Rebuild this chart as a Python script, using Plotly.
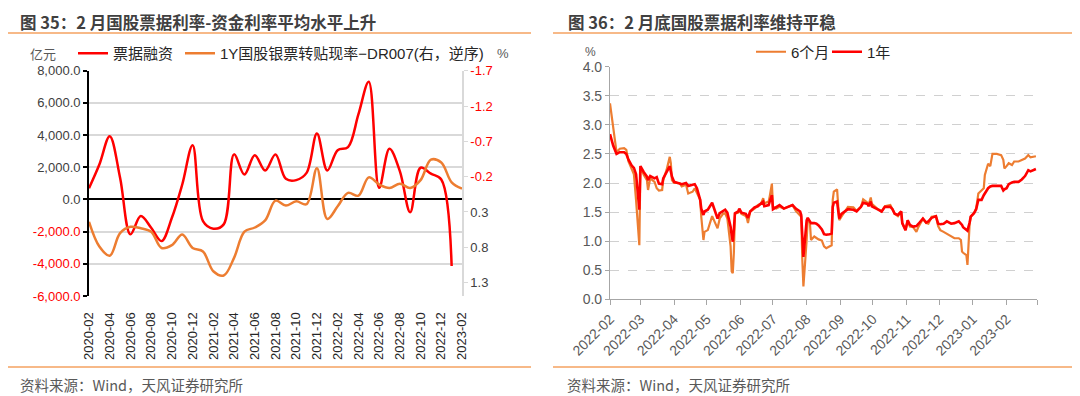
import plotly.graph_objects as go

# ---------------- Left chart data (monthly) ----------------
months = ["2020-02","2020-03","2020-04","2020-05","2020-06","2020-07","2020-08","2020-09","2020-10","2020-11","2020-12",
          "2021-01","2021-02","2021-03","2021-04","2021-05","2021-06","2021-07","2021-08","2021-09","2021-10","2021-11","2021-12",
          "2022-01","2022-02","2022-03","2022-04","2022-05","2022-06","2022-07","2022-08","2022-09","2022-10","2022-11","2022-12",
          "2023-01","2023-02"]
bill_financing = [700, 2170, 3930, 1350, -2170, -1035, -1760, -2590, -1140, 930, 3370,
                  -1350, -1820, -1550, 2800, 1550, 2750, 1800, 2800, 1280, 1200, 1650, 4100,
                  1800, 3060, 3250, 5280, 7310, 720, 3150, 1760, -790, 1970, 1600, 1240,
                  -4140, None]
spread_1y_dr007 = [0.44, 0.79, 0.92, 0.60, 0.51, 0.53, 0.58, 0.81, 0.77, 0.62, 0.81,
                   0.86, 1.14, 1.20, 0.95, 0.58, 0.52, 0.42, 0.14, 0.21, 0.15, 0.19, -0.32,
                   0.40, 0.22, 0.03, 0.07, -0.19, -0.09, -0.04, -0.10, -0.04, -0.15, -0.44, -0.40,
                   -0.12, -0.03]
left_ticks = [-6000, -4000, -2000, 0, 2000, 4000, 6000, 8000]
right_ticks = [-1.7, -1.2, -0.7, -0.2, 0.3, 0.8, 1.3]

# ---------------- Right chart data (daily samples) ----------------
days = ["2022-02-01","2022-02-04","2022-02-07","2022-02-10","2022-02-14","2022-02-16","2022-02-18","2022-02-21","2022-02-23","2022-02-25","2022-02-28",
        "2022-03-01","2022-03-04","2022-03-07","2022-03-08","2022-03-10","2022-03-14","2022-03-16","2022-03-18","2022-03-21","2022-03-22","2022-03-25","2022-03-28","2022-03-29","2022-03-30",
        "2022-04-01","2022-04-06","2022-04-08","2022-04-12","2022-04-14","2022-04-18","2022-04-20","2022-04-22","2022-04-25","2022-04-26","2022-04-28","2022-04-29",
        "2022-05-02","2022-05-06","2022-05-09","2022-05-11","2022-05-13","2022-05-16","2022-05-18","2022-05-20","2022-05-23","2022-05-24","2022-05-25","2022-05-26","2022-05-27","2022-05-30","2022-05-31",
        "2022-06-02","2022-06-06","2022-06-07","2022-06-08","2022-06-10","2022-06-14","2022-06-17","2022-06-20","2022-06-22","2022-06-23","2022-06-27","2022-06-28","2022-06-30",
        "2022-07-01","2022-07-04","2022-07-07","2022-07-11","2022-07-15","2022-07-19","2022-07-22","2022-07-26","2022-07-27","2022-07-28","2022-07-29",
        "2022-08-01","2022-08-02","2022-08-04","2022-08-05","2022-08-08","2022-08-10","2022-08-12","2022-08-15","2022-08-17","2022-08-19","2022-08-22","2022-08-24","2022-08-25","2022-08-26","2022-08-29","2022-08-30","2022-08-31",
        "2022-09-02","2022-09-05","2022-09-08","2022-09-13","2022-09-16","2022-09-20","2022-09-22","2022-09-26","2022-09-27","2022-09-29","2022-09-30",
        "2022-10-05","2022-10-09","2022-10-12","2022-10-17","2022-10-19","2022-10-21","2022-10-24","2022-10-27","2022-10-28","2022-10-31",
        "2022-11-02","2022-11-04","2022-11-07","2022-11-10","2022-11-12","2022-11-16","2022-11-19","2022-11-21","2022-11-24","2022-11-28","2022-11-30",
        "2022-12-02","2022-12-05","2022-12-08","2022-12-12","2022-12-15","2022-12-19","2022-12-21","2022-12-22","2022-12-23","2022-12-26","2022-12-27","2022-12-29","2022-12-30",
        "2023-01-02","2023-01-04","2023-01-06","2023-01-09","2023-01-11","2023-01-12","2023-01-14","2023-01-15","2023-01-17","2023-01-19","2023-01-23","2023-01-27","2023-01-29","2023-01-30",
        "2023-02-01","2023-02-03","2023-02-06","2023-02-08","2023-02-12","2023-02-15","2023-02-18","2023-02-21","2023-02-23","2023-02-28"]
rate_6m = [3.37, 2.95, 2.53, 2.59, 2.60, 2.57, 2.37, 2.24, 2.15, 1.70, 0.93,
           2.28, 2.14, 2.05, 1.88, 2.08, 2.02, 1.91, 1.87, 1.88, 2.05, 2.22, 2.45, 2.34, 2.05,
           2.00, 2.00, 1.94, 1.97, 1.82, 1.85, 1.91, 1.82, 1.71, 1.42, 1.02, 1.16,
           1.19, 1.43, 1.31, 1.22, 1.39, 1.47, 1.48, 1.39, 0.91, 0.48, 0.45, 0.80, 1.47, 1.49, 1.54,
           1.47, 1.43, 1.39, 1.31, 1.51, 1.56, 1.62, 1.65, 1.74, 1.65, 1.68, 1.77, 1.99,
           1.59, 1.56, 1.59, 1.56, 1.59, 1.62, 1.52, 1.45, 1.42, 0.68, 0.22,
           1.02, 1.39, 1.31, 1.02, 1.08, 1.05, 1.03, 1.01, 0.91, 0.88, 0.91, 0.93, 1.71, 1.85, 1.89, 1.59, 1.36,
           1.42, 1.51, 1.59, 1.58, 1.52, 1.59, 1.72, 1.66, 1.62, 1.75, 1.64,
           1.56, 1.51, 1.60, 1.62, 1.55, 1.47, 1.43, 1.51, 1.31, 1.19,
           1.36, 1.25, 1.24, 1.16, 1.25, 1.38, 1.31, 1.30, 1.42, 1.43, 1.26,
           1.19, 1.16, 1.13, 1.08, 1.05, 1.05, 1.02, 0.82, 0.80, 0.76, 0.59, 1.30, 1.42,
           1.48, 1.56, 1.82, 1.88, 1.91, 2.14, 2.28, 2.33, 2.29, 2.50, 2.50, 2.48, 2.40, 2.25,
           2.29, 2.34, 2.31, 2.37, 2.37, 2.40, 2.42, 2.48, 2.44, 2.46]
rate_1y = [2.84, 2.64, 2.50, 2.53, 2.53, 2.50, 2.40, 2.30, 2.26, 2.15, 1.54,
           2.29, 2.19, 2.11, 2.05, 2.12, 2.08, 2.10, 1.99, 1.98, 2.08, 2.19, 2.29, 2.20, 2.11,
           2.02, 2.00, 1.98, 2.00, 1.95, 1.97, 1.98, 1.91, 1.71, 1.56, 1.45, 1.51,
           1.54, 1.66, 1.51, 1.39, 1.48, 1.51, 1.54, 1.49, 1.25, 1.10, 0.99, 1.20, 1.48, 1.51, 1.56,
           1.49, 1.47, 1.43, 1.40, 1.51, 1.58, 1.60, 1.65, 1.68, 1.60, 1.62, 1.68, 1.79,
           1.55, 1.58, 1.62, 1.56, 1.59, 1.62, 1.56, 1.51, 1.45, 1.08, 0.73,
           1.36, 1.40, 1.34, 1.31, 1.31, 1.30, 1.27, 1.20, 1.12, 1.11, 1.12, 1.13, 1.59, 1.66, 1.68, 1.48, 1.39,
           1.47, 1.51, 1.55, 1.54, 1.51, 1.59, 1.66, 1.64, 1.60, 1.68, 1.60,
           1.55, 1.51, 1.59, 1.59, 1.55, 1.47, 1.45, 1.51, 1.31, 1.19,
           1.36, 1.28, 1.25, 1.26, 1.30, 1.39, 1.32, 1.34, 1.40, 1.43, 1.30,
           1.29, 1.30, 1.34, 1.30, 1.31, 1.34, 1.31, 1.28, 1.24, 1.20, 1.18, 1.32, 1.42,
           1.48, 1.55, 1.71, 1.71, 1.79, 1.82, 1.89, 1.91, 1.94, 1.95, 1.95, 1.95, 1.87, 1.89,
           1.91, 1.98, 2.01, 2.02, 2.02, 2.06, 2.12, 2.22, 2.20, 2.24]
month_starts = ["2022-02-01","2022-03-01","2022-04-01","2022-05-01","2022-06-01","2022-07-01","2022-08-01",
                "2022-09-01","2022-10-01","2022-11-01","2022-12-01","2023-01-01","2023-02-01","2023-03-01"]

# ---------------- Styling / layout helpers ----------------
W, H = 1080, 396
OFF = 8  # the page's default body margin shifts the figure by this many pixels
RED = "#FF0000"
ORANGE = "#ED7D31"
DIVIDER = "#F4A261"
DARK = "#404040"
GREY = "#595959"
FONT = "Liberation Sans, Arial, Noto Sans CJK SC, sans-serif"
CJK = "Noto Sans CJK SC, Liberation Sans, sans-serif"

def fx(p):
    return (p - OFF) / W

def fy(p):
    return 1 - (p - OFF) / H

L_X0, L_X1, L_Y0, L_Y1 = 89.0, 462.0, 296.0, 70.7
R_X0, R_X1, R_Y0, R_Y1 = 610.0, 1037.0, 299.3, 66.7

left_min, left_max = -6000, 8000
right_rev = [1.49, -1.7]


def fmt_left(v):
    s = f"{v:,.1f}"
    return f'<span style="color:{RED}">{s}</span>' if v < 0 else s


def fmt_right(v):
    s = f"{v:.1f}"
    return f'<span style="color:{RED}">{s}</span>' if v < 0 else s


fig = go.Figure()

# Left chart traces
fig.add_trace(go.Scatter(x=months, y=spread_1y_dr007, name="1Y国股银票转贴现率−DR007(右，逆序)",
                         mode="lines", line=dict(color=ORANGE, width=2.5, shape="spline", smoothing=1.0),
                         xaxis="x", yaxis="y2", legend="legend", legendrank=2))
fig.add_trace(go.Scatter(x=months, y=bill_financing, name="票据融资",
                         mode="lines", line=dict(color=RED, width=2.5, shape="spline", smoothing=1.0),
                         xaxis="x", yaxis="y", legend="legend", legendrank=1, legendwidth=62))

# Right chart traces
fig.add_trace(go.Scatter(x=days, y=rate_6m, name="6个月", mode="lines",
                         line=dict(color=ORANGE, width=2.2), xaxis="x2", yaxis="y3", legend="legend2",
                         legendwidth=31))
fig.add_trace(go.Scatter(x=days, y=rate_1y, name="1年", mode="lines",
                         line=dict(color=RED, width=2.6), xaxis="x2", yaxis="y3", legend="legend2"))

zero_pos = fy(L_Y0) + (0 - left_min) / (left_max - left_min) * (fy(L_Y1) - fy(L_Y0))

fig.update_layout(
    width=W, height=H, autosize=False,
    margin=dict(l=0, r=0, t=0, b=0, pad=0, autoexpand=False),
    paper_bgcolor="white", plot_bgcolor="white",
    font=dict(family=FONT, size=13, color=DARK),
    showlegend=True,
    xaxis=dict(domain=[fx(L_X0), fx(L_X1)], type="category", categoryarray=months,
               range=[0, len(months) - 1], tickvals=months[::2], ticktext=months[::2],
               tickangle=-90, ticks="outside", ticklen=10, tickcolor="rgba(0,0,0,0)",
               showgrid=False, showline=False, zeroline=False, anchor="y", automargin=False,
               tickfont=dict(family=FONT, size=13, color="#262626")),
    xaxis3=dict(domain=[fx(L_X0), fx(L_X1)], type="category", categoryarray=months,
                range=[0, len(months) - 1], overlaying="x", anchor="free", position=zero_pos,
                tickvals=months[2::2], showticklabels=False, ticks="outside", ticklen=4, automargin=False,
                tickcolor="#000000", tickwidth=1.5, showgrid=False, showline=False, zeroline=False),
    yaxis=dict(domain=[fy(L_Y0), fy(L_Y1)], range=[left_min, left_max],
               tickvals=left_ticks, ticktext=[fmt_left(v) for v in left_ticks],
               showgrid=True, gridcolor="#D9D9D9", gridwidth=1.5,
               zeroline=True, zerolinecolor="#000000", zerolinewidth=1.8,
               showline=True, linecolor="#000000", linewidth=1.8, automargin=False,
               ticks="outside", ticklen=4, tickcolor="#000000", tickwidth=1.5,
               tickfont=dict(family=FONT, size=13, color=DARK), anchor="x"),
    yaxis2=dict(domain=[fy(L_Y0), fy(L_Y1)], range=right_rev, overlaying="y", side="right", anchor="x",
                tickvals=right_ticks, ticktext=[fmt_right(v) for v in right_ticks], automargin=False,
                showgrid=False, zeroline=False, showline=True, linecolor="#D9D9D9", linewidth=1.5,
                ticks="outside", ticklen=4, tickcolor="#D9D9D9",
                tickfont=dict(family=FONT, size=13, color=DARK)),
    xaxis2=dict(domain=[fx(R_X0), fx(R_X1)], type="date", range=["2022-02-01", "2023-03-01"],
                tickvals=month_starts, ticktext=[m[:7] for m in month_starts[:-1]] + [""],
                tickangle=-45, ticks="outside", ticklen=5, tickcolor="#A6A6A6", automargin=False,
                showline=True, linecolor="#A6A6A6", linewidth=1.2, showgrid=False, zeroline=False,
                tickfont=dict(family=FONT, size=14, color=GREY), anchor="y3"),
    yaxis3=dict(domain=[fy(R_Y0), fy(R_Y1)], range=[0, 4], dtick=0.5, tick0=0, tickformat=".1f",
                showgrid=True, gridcolor="#D0D0D0", gridwidth=1, griddash="dash", automargin=False,
                showline=True, linecolor="#A6A6A6", linewidth=1.2, zeroline=False,
                ticks="outside", ticklen=4, tickcolor="#A6A6A6",
                tickfont=dict(family=FONT, size=14, color=GREY), anchor="x2"),
    legend=dict(orientation="h", x=fx(73), y=fy(53.5), xanchor="left", yanchor="middle",
                bgcolor="rgba(0,0,0,0)", font=dict(family=FONT, size=15, color="#262626"),
                traceorder="normal", itemwidth=30),
    legend2=dict(orientation="h", x=fx(751), y=fy(52), xanchor="left", yanchor="middle",
                 bgcolor="rgba(0,0,0,0)", font=dict(family=FONT, size=15, color="#262626"),
                 traceorder="normal", itemwidth=30),
)

annotations = [
    dict(text="<b>图 35：2 月国股票据利率-资金利率平均水平上升</b>", x=fx(19), y=fy(8.5), yanchor="top",
         font=dict(family=CJK, size=16.5, color=DARK)),
    dict(text="<b>图 36：2 月底国股票据利率维持平稳</b>", x=fx(567), y=fy(8.5), yanchor="top",
         font=dict(family=CJK, size=16.5, color=DARK)),
    dict(text="亿元", x=fx(29), y=fy(53.5), font=dict(family=CJK, size=13, color=GREY)),
    dict(text="%", x=fx(496), y=fy(53.5), font=dict(family=FONT, size=13, color=GREY)),
    dict(text="%", x=fx(584), y=fy(52), font=dict(family=FONT, size=12, color=GREY)),
    dict(text="资料来源：Wind，天风证券研究所", x=fx(19), y=fy(384),
         font=dict(family=CJK, size=14.5, color=GREY)),
    dict(text="资料来源：Wind，天风证券研究所", x=fx(566), y=fy(384),
         font=dict(family=CJK, size=14.5, color=GREY)),
]
for a in annotations:
    a.setdefault("yanchor", "middle")
    a.update(xref="paper", yref="paper", xanchor="left", showarrow=False, borderpad=0)
    fig.add_annotation(**a)

shapes = [
    (8, 531, 33), (553, 1080, 33),
    (8, 531, 367), (553, 1080, 367),
]
for x0, x1, yy in shapes:
    fig.add_shape(type="line", xref="paper", yref="paper", x0=fx(x0), x1=fx(x1), y0=fy(yy), y1=fy(yy),
                  line=dict(color=DIVIDER, width=1.5))

fig.write_html("out.html")
